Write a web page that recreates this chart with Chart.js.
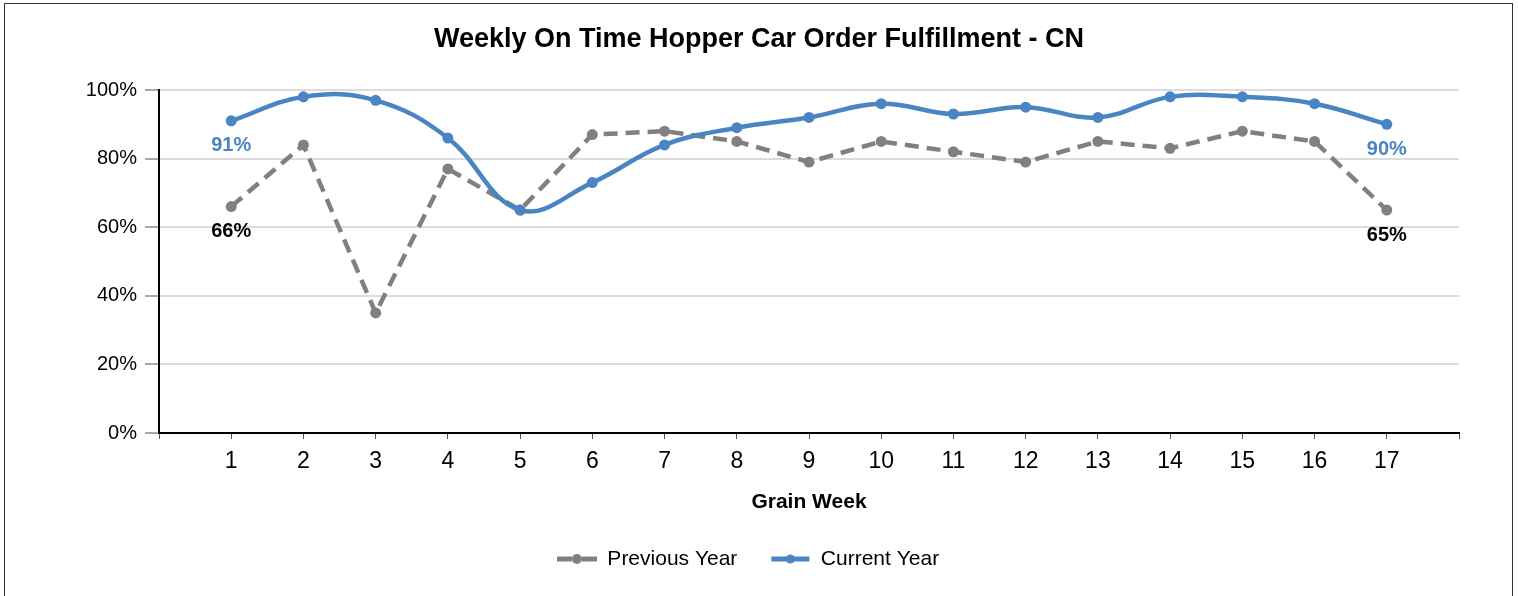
<!DOCTYPE html>
<html>
<head>
<meta charset="utf-8">
<script src="https://cdn.jsdelivr.net/npm/chart.js@4.4.1/dist/chart.umd.min.js"></script>
<style>
  html, body { margin: 0; padding: 0; background: #fff; width: 1518px; height: 596px; overflow: hidden; }
  #frame { position: absolute; left: 4px; top: 3px; width: 1509px; height: 640px; border: 1px solid #333; box-sizing: border-box; }
  #wrap { position: absolute; left: 0; top: 0; width: 1518px; height: 596px; }
</style>
</head>
<body>
<div id="frame"></div>
<div id="wrap"><canvas id="c" width="1518" height="596"></canvas></div>
<script>
const chartTitle = 'Weekly On Time Hopper Car Order Fulfillment - CN';
const xAxisTitle = 'Grain Week';
const categories = [1, 2, 3, 4, 5, 6, 7, 8, 9, 10, 11, 12, 13, 14, 15, 16, 17];
const previousYear = [66, 84, 35, 77, 65, 87, 88, 85, 79, 85, 82, 79, 85, 83, 88, 85, 65];
const currentYear = [91, 98, 97, 86, 65, 73, 84, 89, 92, 96, 93, 95, 92, 98, 98, 96, 90];
const yTicks = [0, 20, 40, 60, 80, 100];
const seriesNames = ['Previous Year', 'Current Year'];

const GRAY = '#808080';
const BLUE = '#4a84c3';
const FONT = "'Liberation Sans', Arial, sans-serif";

function legendIcon(color, dashed) {
  const cv = document.createElement('canvas');
  cv.width = 40; cv.height = 14;
  const g = cv.getContext('2d');
  g.strokeStyle = color; g.fillStyle = color; g.lineWidth = 5;
  g.beginPath();
  if (dashed) {
    g.moveTo(0, 7); g.lineTo(15, 7);
    g.moveTo(25, 7); g.lineTo(40, 7);
  } else {
    g.moveTo(1, 7); g.lineTo(39, 7);
  }
  g.stroke();
  g.beginPath(); g.arc(20, 7, dashed ? 5 : 4.5, 0, Math.PI * 2); g.fill();
  return cv;
}
const icons = [legendIcon(GRAY, true), legendIcon(BLUE, false)];

const endLabels = {
  id: 'endLabels',
  afterDatasetsDraw(chart) {
    const ctx = chart.ctx;
    ctx.save();
    ctx.font = 'bold 20px ' + FONT;
    ctx.textAlign = 'center';
    ctx.textBaseline = 'middle';
    chart.data.datasets.forEach((ds, di) => {
      const meta = chart.getDatasetMeta(di);
      const pts = meta.data;
      [0, pts.length - 1].forEach(i => {
        const el = pts[i];
        ctx.fillStyle = ds.labelColor;
        ctx.fillText(ds.data[i].y + '%', el.x, el.y + 25);
      });
    });
    ctx.restore();
  }
};

const legendNudge = {
  id: 'legendNudge',
  afterLayout(chart) {
    if (chart.legend) { chart.legend.left -= 11; chart.legend.right -= 11; }
  }
};

new Chart(document.getElementById('c'), {
  type: 'line',
  data: {
    datasets: [
      {
        label: seriesNames[0],
        data: categories.map((c, i) => ({ x: c, y: previousYear[i] })),
        borderColor: GRAY, backgroundColor: GRAY,
        borderWidth: 4.5, borderDash: [14, 8], tension: 0,
        pointRadius: 5.5, pointBackgroundColor: GRAY, pointBorderWidth: 0,
        labelColor: '#000', order: 1
      },
      {
        label: seriesNames[1],
        data: categories.map((c, i) => ({ x: c, y: currentYear[i] })),
        borderColor: BLUE, backgroundColor: BLUE,
        borderWidth: 4.5, tension: 0.4,
        pointRadius: 5.5, pointBackgroundColor: BLUE, pointBorderWidth: 0,
        labelColor: BLUE, order: 0
      }
    ]
  },
  options: {
    responsive: false,
    animation: false,
    layout: { padding: { left: 0, right: 0, top: 0, bottom: 16.5 } },
    plugins: {
      tooltip: { enabled: false },
      title: {
        display: true, text: chartTitle, color: '#000',
        font: { family: FONT, size: 27, weight: 'bold' },
        padding: { top: 23, bottom: 34.6 }
      },
      legend: {
        position: 'bottom',
        labels: {
          usePointStyle: true, pointStyleWidth: 40,
          color: '#000', padding: 33,
          font: { family: FONT, size: 21 },
          generateLabels: () => seriesNames.map((n, i) => ({
            text: n, pointStyle: icons[i], datasetIndex: i, hidden: false,
            fillStyle: 'transparent', strokeStyle: 'transparent', lineWidth: 0, fontColor: '#000'
          }))
        }
      }
    },
    scales: {
      x: {
        type: 'linear', min: 0, max: 18,
        ticks: {
          stepSize: 1, color: '#000', padding: 9,
          font: { family: FONT, size: 23 },
          callback: v => (categories.includes(v) ? String(v) : '')
        },
        grid: { drawOnChartArea: false, drawTicks: true, tickLength: 6, tickColor: '#555', tickWidth: 1 },
        border: { display: true, color: '#000', width: 2 },
        title: { display: true, text: xAxisTitle, color: '#000', font: { family: FONT, size: 21, weight: 'bold', lineHeight: 1.0 }, padding: { top: 7.1, bottom: 2.8 } }
      },
      y: {
        min: 0, max: 100,
        afterBuildTicks: s => { s.ticks = yTicks.map(v => ({ value: v })); },
        afterFit: s => { s.width = 159; },
        ticks: { color: '#000', padding: 8, font: { family: FONT, size: 20 }, callback: v => v + '%' },
        grid: { color: '#dcdcdc', lineWidth: 2, drawTicks: true, tickLength: 14, tickColor: '#555', tickWidth: 1 },
        border: { display: true, color: '#000', width: 2 }
      },
      rightSpace: {
        type: 'linear', position: 'right', display: true,
        afterFit: s => { s.width = 59; },
        ticks: { display: false },
        grid: { display: false, drawTicks: false },
        border: { display: false }
      }
    }
  },
  plugins: [endLabels, legendNudge]
});
</script>
</body>
</html>
